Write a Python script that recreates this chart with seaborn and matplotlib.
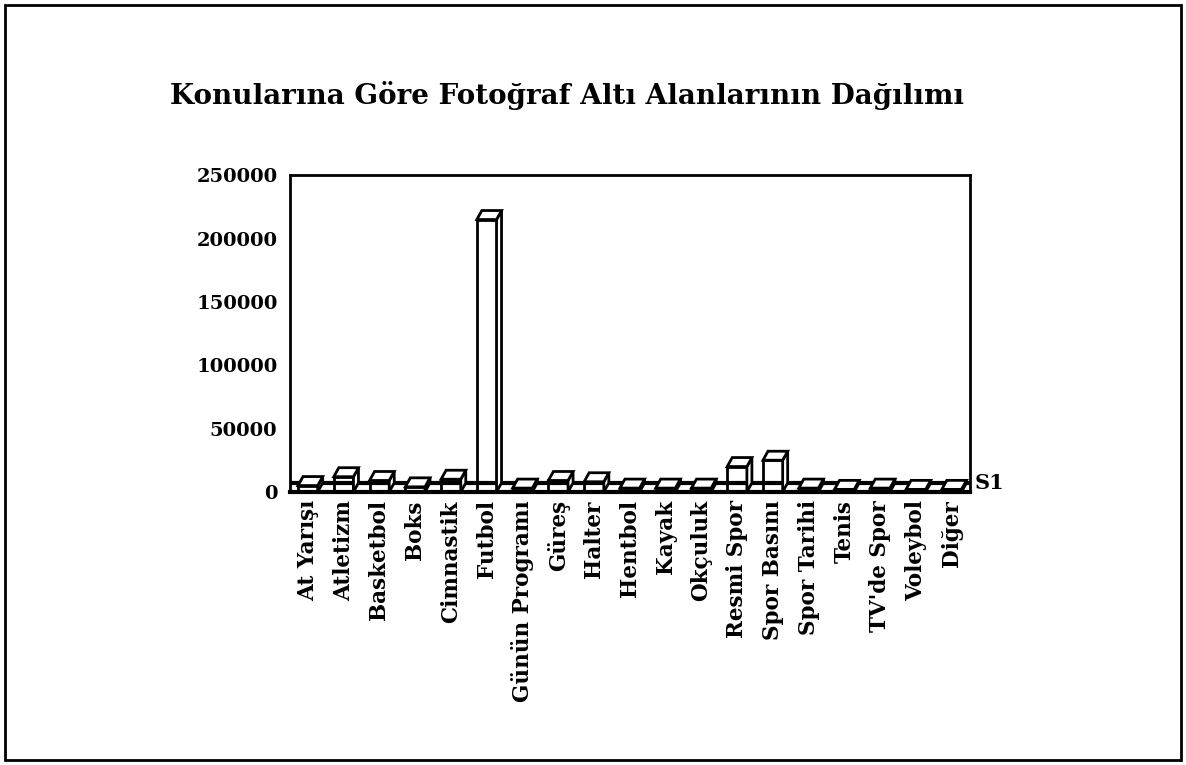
import numpy as np
import pandas as pd
import seaborn as sns
import matplotlib.pyplot as plt
from matplotlib.patches import Polygon, Rectangle

categories = ["At Yarışı", "Atletizm", "Basketbol", "Boks", "Cimnastik", "Futbol",
              "Günün Programı", "Güreş", "Halter", "Hentbol", "Kayak", "Okçuluk",
              "Resmi Spor", "Spor Basını", "Spor Tarihi", "Tenis", "TV'de Spor",
              "Voleybol", "Diğer"]
values = [5000, 12000, 9000, 4000, 10000, 215000, 3000, 9000, 8000, 3000,
          3000, 3000, 20000, 25000, 3000, 2000, 3000, 2000, 2000]
yticks = [0, 50000, 100000, 150000, 200000, 250000]
series_name = "S1"
title = "Konularına Göre Fotoğraf Altı Alanlarının Dağılımı"

sns.set_style("white")
plt.rcParams['font.family'] = ['DejaVu Serif']
plt.rcParams['font.weight'] = 'bold'
plt.rcParams['text.color'] = 'black'
plt.rcParams['xtick.color'] = 'black'
plt.rcParams['ytick.color'] = 'black'

df = pd.DataFrame({"konu": categories, "deger": values})

fig = plt.figure(figsize=(11.86, 7.65), dpi=100)
ax = fig.add_axes([0.2445, 0.357, 0.573, 0.414])

sns.barplot(data=df, x="konu", y="deger", color="white", edgecolor="black",
            linewidth=2, width=0.55, saturation=1, ax=ax)

ax.set_xlim(-0.5, len(categories) - 0.5)
ax.set_ylim(0, 250000)

# 3D-ish depth for each bar (offset in pixels -> data units)
fig.canvas.draw()
inv = ax.transData.inverted()
p0 = inv.transform((0, 0))
p1 = inv.transform((5, 9))
dx, dy = p1[0] - p0[0], p1[1] - p0[1]
for bar in ax.patches[:len(categories)]:
    x0 = bar.get_x()
    x1 = x0 + bar.get_width()
    h = bar.get_height()
    top = Polygon([(x0, h), (x1, h), (x1 + dx, h + dy), (x0 + dx, h + dy)],
                  closed=True, facecolor="white", edgecolor="black", lw=2, zorder=3)
    side = Polygon([(x1, 0), (x1, h), (x1 + dx, h + dy), (x1 + dx, dy)],
                   closed=True, facecolor="white", edgecolor="black", lw=2, zorder=3)
    ax.add_patch(side)
    ax.add_patch(top)

# floor line behind the bars
ax.axhline(dy, color="black", lw=3, zorder=1)

for s in ax.spines.values():
    s.set_visible(True)
    s.set_color("black")
    s.set_linewidth(2)
ax.spines["bottom"].set_linewidth(3)

ax.set_yticks(yticks)
ax.set_yticklabels([str(t) for t in yticks], fontsize=14, fontweight="bold")
ax.set_xticks(range(len(categories)))
ax.set_xticklabels(categories, rotation=90, fontsize=15.5, fontweight="bold")
ax.set_xticks(np.arange(-0.5, len(categories)), minor=True)
ax.tick_params(axis="x", which="major", length=0, pad=6)
ax.tick_params(axis="x", which="minor", length=7, width=2.5, direction="out", color="black")
ax.tick_params(axis="y", length=6, width=2, direction="out", color="black", pad=3)
ax.set_xlabel("")
ax.set_ylabel("")

ax.text(1.008, dy, series_name, transform=ax.get_yaxis_transform(), fontsize=15,
        fontweight="bold", va="center", ha="left")

fig.text(0.143, 0.875, title, fontsize=20, fontweight="bold", ha="left", va="center")

fig.patches.append(Rectangle((0.004, 0.006), 0.992, 0.988, transform=fig.transFigure,
                             fill=False, edgecolor="black", lw=2))

fig.savefig("out.png", dpi=100)
